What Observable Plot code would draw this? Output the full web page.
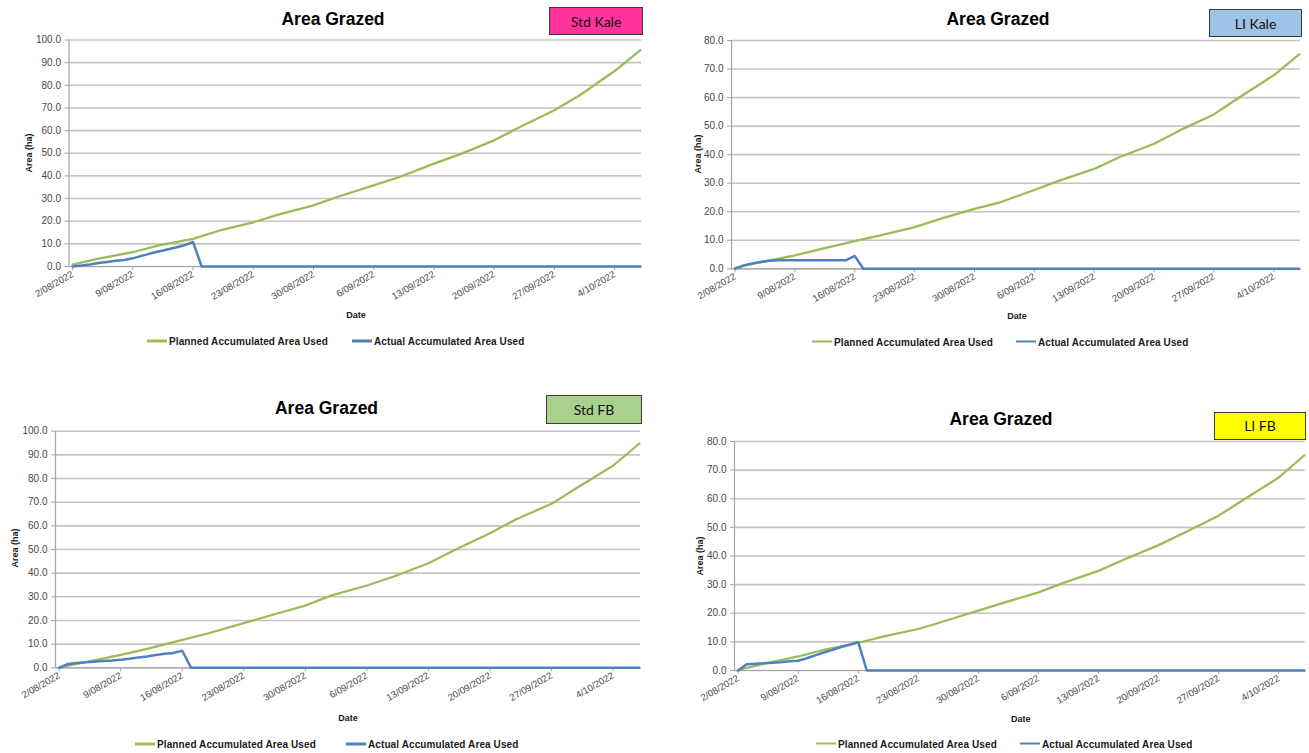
<!DOCTYPE html>
<html>
<head>
<meta charset="utf-8">
<script src="https://cdn.jsdelivr.net/npm/d3@7"></script>
<script src="https://cdn.jsdelivr.net/npm/@observablehq/plot@0.6"></script>
<style>
  body { margin: 0; background: #fff; font-family: "Liberation Sans", Arial, sans-serif; }
  #page { position: relative; width: 1309px; height: 753px; overflow: hidden; background: #fff; }
  .plot { position: absolute; }
  .title { position: absolute; font-weight: bold; font-size: 17.5px; line-height: 20px; color: #000;
           transform: translateX(-50%); white-space: nowrap; }
  .tag { position: absolute; box-sizing: border-box; border: 1.5px solid #3c3c3c; font-family: Lato, "Open Sans", sans-serif;
         font-size: 14px; color: #111; display: flex; align-items: center; justify-content: center; }
  .ylab { position: absolute; font-weight: bold; font-size: 9px; line-height: 10px; color: #1a1a1a; white-space: nowrap;
          transform: translate(-50%, -50%) rotate(-90deg); }
  .xlab { position: absolute; font-weight: bold; font-size: 9px; line-height: 10px; color: #1a1a1a; white-space: nowrap;
          transform: translate(-50%, -50%); }
  .leg { position: absolute; display: flex; align-items: center; transform: translateY(-50%);
         font-weight: bold; font-size: 10px; color: #1a1a1a; white-space: nowrap; letter-spacing: 0.1px; }
  .sw { display: inline-block; width: 20px; height: 2.5px; margin-right: 2px; }
</style>
</head>
<body>
<div id="page"></div>
<script>
// Weekly date ticks shared by all four charts
const weekTicks = ["2022-08-02", "2022-08-09", "2022-08-16", "2022-08-23", "2022-08-30",
                   "2022-09-06", "2022-09-13", "2022-09-20", "2022-09-27", "2022-10-04"];
const yTicks100 = [0, 10, 20, 30, 40, 50, 60, 70, 80, 90, 100];
const yTicks80 = [0, 10, 20, 30, 40, 50, 60, 70, 80];

const seriesNames = ["Planned Accumulated Area Used", "Actual Accumulated Area Used"];
const seriesColors = ["#9BBB59", "#4F81BD"];
const panelNames = ["Std Kale", "LI Kale", "Std FB", "LI FB"];
const tagColors = ["#FF3399", "#9DC3E6", "#A9D18E", "#FFFF00"];

// Planned accumulated area (ha)
const plannedDates = ["2022-08-02", "2022-08-05", "2022-08-09", "2022-08-12", "2022-08-16", "2022-08-19",
                      "2022-08-23", "2022-08-26", "2022-08-30", "2022-09-02", "2022-09-06", "2022-09-09",
                      "2022-09-13", "2022-09-16", "2022-09-20", "2022-09-23", "2022-09-27", "2022-09-30",
                      "2022-10-04", "2022-10-07"];
const plannedStdKale = [0.8, 3.5, 6.3, 9.3, 12.2, 15.8, 19.5, 23.0, 27.0, 31.0, 35.8, 39.5, 45.4, 49.5, 55.7, 61.6, 69.0, 75.7, 86.3, 95.5];
const plannedLiKale  = [0.3, 2.3, 4.7, 6.9, 9.7, 11.7, 14.6, 17.5, 21.0, 23.3, 27.6, 31.0, 35.0, 39.2, 43.8, 48.5, 54.1, 60.1, 67.8, 75.2];
const plannedStdFb   = [0.2, 2.4, 5.5, 8.0, 11.8, 14.6, 18.9, 22.1, 26.3, 30.6, 34.8, 38.5, 44.2, 49.8, 56.9, 62.8, 69.3, 76.3, 85.4, 94.8];
const plannedLiFb    = [0.2, 2.3, 4.9, 7.2, 9.7, 11.9, 14.5, 17.2, 20.9, 23.7, 27.3, 30.7, 34.8, 38.8, 43.8, 48.1, 54.1, 59.8, 67.4, 75.2];

// Actual accumulated area (ha): daily to 17 Aug, then zero to the end of the period
const actualDates = ["2022-08-02", "2022-08-03", "2022-08-04", "2022-08-05", "2022-08-06", "2022-08-07",
                     "2022-08-08", "2022-08-09", "2022-08-10", "2022-08-11", "2022-08-12", "2022-08-13",
                     "2022-08-14", "2022-08-15", "2022-08-16", "2022-08-17", "2022-10-07"];
const actualStdKale = [0, 0.4, 0.9, 1.5, 2.0, 2.5, 2.9, 3.6, 4.7, 5.7, 6.6, 7.5, 8.4, 9.4, 10.8, 0, 0];
const actualLiKale  = [0, 1.2, 1.9, 2.4, 2.8, 3.0, 3.0, 3.0, 3.0, 3.0, 3.0, 3.0, 3.0, 3.0, 4.5, 0, 0];
const actualStdFb   = [0, 1.6, 2.0, 2.3, 2.6, 2.9, 3.1, 3.4, 3.8, 4.4, 4.8, 5.4, 5.9, 6.3, 7.2, 0, 0];
const actualLiFb    = [0, 2.2, 2.4, 2.5, 2.7, 2.9, 3.2, 3.4, 4.3, 5.3, 6.3, 7.2, 8.2, 9.0, 9.9, 0, 0];

const xStart = new Date("2022-08-01T14:00:00Z");
const xEnd = new Date("2022-10-07T03:00:00Z");
const parse = d3.utcParse("%Y-%m-%d");

// Panel geometry on the page
const layout = [
  { left: 0,   top: 0,   w: 655, h: 300, ml: 68.5, mt: 39.5, mr: 14, mb: 34,
    yMax: 100, yTicks: yTicks100, planned: plannedStdKale, actual: actualStdKale,
    title: [333, 9], tag: [549, 7, 94, 28], ylab: [29, 153], xlab: [356, 315],
    leg: [[147, 341], [352, 341]] },
  { left: 655, top: 0,   w: 654, h: 300, ml: 76, mt: 40, mr: 9, mb: 31.7,
    yMax: 80, yTicks: yTicks80, planned: plannedLiKale, actual: actualLiKale,
    title: [998, 9], tag: [1209, 9, 93, 28], ylab: [697.5, 153.5], xlab: [1017, 316],
    leg: [[812, 341.5], [1016, 341.5]] },
  { left: 0,   top: 380, w: 655, h: 320, ml: 55, mt: 50.7, mr: 15, mb: 32.7,
    yMax: 100, yTicks: yTicks100, planned: plannedStdFb, actual: actualStdFb,
    title: [326.5, 398], tag: [546, 395, 96, 29], ylab: [14.7, 548], xlab: [348, 718],
    leg: [[135, 744], [346, 744]] },
  { left: 655, top: 380, w: 654, h: 320, ml: 79, mt: 61, mr: 4, mb: 30,
    yMax: 80, yTicks: yTicks80, planned: plannedLiFb, actual: actualLiFb,
    title: [1001, 409], tag: [1214, 411.5, 92, 28], ylab: [700.3, 556], xlab: [1020.7, 718.5],
    leg: [[816, 743.5], [1020, 743.5]] }
];

const page = document.getElementById("page");

function addDiv(cls, text, css) {
  const d = document.createElement("div");
  d.className = cls;
  if (text != null) d.textContent = text;
  Object.assign(d.style, css);
  page.appendChild(d);
  return d;
}

layout.forEach((p, k) => {
  const plannedRows = plannedDates.map((d, i) => ({ date: parse(d), value: p.planned[i] }));
  const actualRows = actualDates.map((d, i) => ({ date: parse(d), value: p.actual[i] }));

  const svg = Plot.plot({
    width: p.w, height: p.h,
    marginLeft: p.ml, marginTop: p.mt, marginRight: p.mr, marginBottom: p.mb,
    style: { fontFamily: "'Liberation Sans', Arial, sans-serif", color: "#474747", background: "transparent", overflow: "visible" },
    x: { type: "utc", domain: [xStart, xEnd] },
    y: { domain: [0, p.yMax] },
    marks: [
      Plot.gridY(p.yTicks, { stroke: "#c4c4c4", strokeOpacity: 1, strokeWidth: 1.6 }),
      Plot.ruleX([xStart], { stroke: "#a6a6a6", strokeWidth: 1.2 }),
      Plot.ruleY([0], { stroke: "#a6a6a6", strokeWidth: 1.2 }),
      Plot.axisY(p.yTicks, { tickFormat: d3.format(".1f"), tickSize: 4, tickPadding: 4, fontSize: 10,
                             stroke: "#a6a6a6", label: null }),
      Plot.axisX(weekTicks.map(parse), { tickFormat: d3.utcFormat("%-d/%m/%Y"), tickRotate: -30, tickSize: 4,
                             tickPadding: 3, fontSize: 9.5, stroke: "#a6a6a6", label: null }),
      Plot.line(plannedRows, { x: "date", y: "value", stroke: seriesColors[0], strokeWidth: 2.25 }),
      Plot.line(actualRows, { x: "date", y: "value", stroke: seriesColors[1], strokeWidth: 2.5 })
    ]
  });
  svg.classList.add("plot");
  svg.style.left = p.left + "px";
  svg.style.top = p.top + "px";
  page.appendChild(svg);

  addDiv("title", "Area Grazed", { left: p.title[0] + "px", top: p.title[1] + "px" });
  addDiv("tag", panelNames[k], { left: p.tag[0] + "px", top: p.tag[1] + "px", width: p.tag[2] + "px",
                                 height: p.tag[3] + "px", background: tagColors[k] });
  addDiv("ylab", "Area (ha)", { left: p.ylab[0] + "px", top: p.ylab[1] + "px" });
  addDiv("xlab", "Date", { left: p.xlab[0] + "px", top: p.xlab[1] + "px" });

  p.leg.forEach((pos, s) => {
    const item = addDiv("leg", null, { left: pos[0] + "px", top: pos[1] + "px" });
    const sw = document.createElement("span");
    sw.className = "sw";
    sw.style.background = seriesColors[s];
    item.appendChild(sw);
    const t = document.createElement("span");
    t.textContent = seriesNames[s];
    item.appendChild(t);
  });
});
</script>
</body>
</html>
